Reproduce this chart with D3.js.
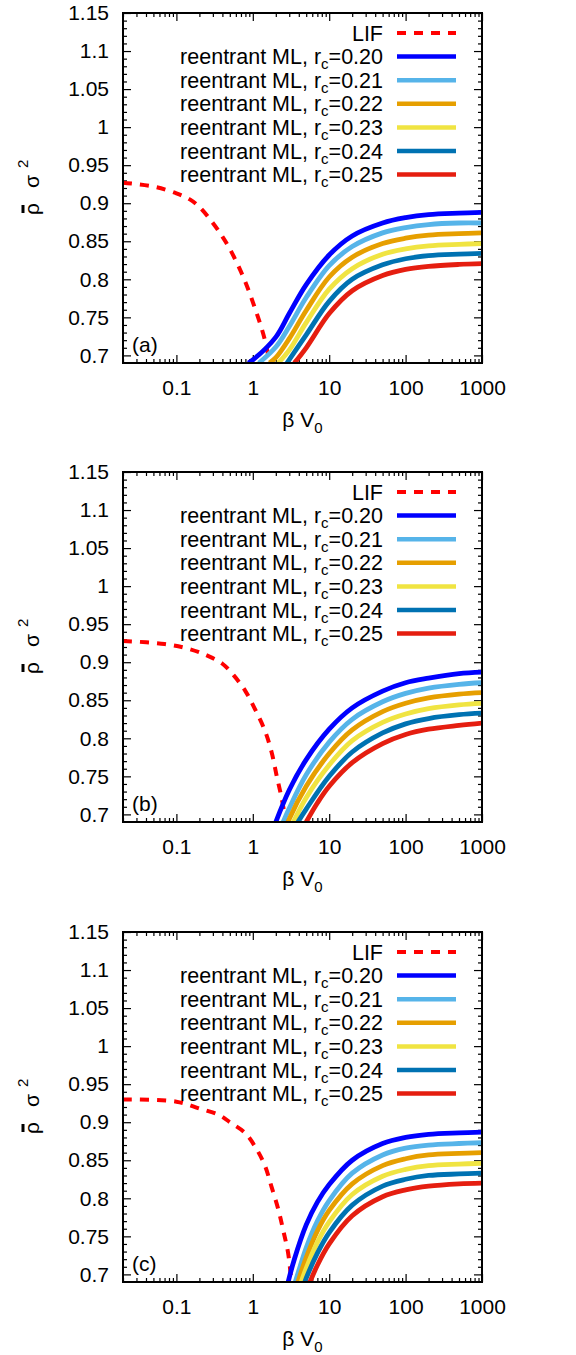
<!DOCTYPE html>
<html><head><meta charset="utf-8">
<script src="https://cdn.jsdelivr.net/npm/d3@7"></script>
<style>
html,body{margin:0;padding:0;background:#fff;}
svg text{font-family:"Liberation Sans",Arial,Helvetica,sans-serif;fill:#000;}
</style></head>
<body>
<svg id="chart" width="576" height="1355"></svg>
<script>
// ---------- data ----------
const panelLabels = ["(a)", "(b)", "(c)"];
const seriesNames = ["0.20", "0.21", "0.22", "0.23", "0.24", "0.25"];
const seriesColors = ["#0000ff", "#56b4e9", "#e69f00", "#f0e442", "#0072b2", "#e51e10"];
const lifColor = "#ff0000";
const xTickValues = [0.1, 1, 10, 100, 1000];
const xTickLabels = ["0.1", "1", "10", "100", "1000"];
const yTickValues = [0.7, 0.75, 0.8, 0.85, 0.9, 0.95, 1.0, 1.05, 1.1, 1.15];
const yTickLabels = ["0.7", "0.75", "0.8", "0.85", "0.9", "0.95", "1", "1.05", "1.1", "1.15"];

// panel (a)
const lifA = [[0.02,0.927],[0.05,0.922],[0.1,0.913],[0.15,0.905],[0.2,0.895],[0.3,0.874],[0.4,0.856],[0.5,0.84],[0.7,0.81],[0.9,0.783],[1.1,0.758],[1.3,0.736],[1.5,0.713],[1.65,0.69]];
const mlA20 = [[0.87,0.69],[1,0.694],[2,0.724],[3,0.755],[5,0.793],[10,0.832],[20,0.857],[50,0.874],[100,0.881],[200,0.885],[500,0.887],[1000,0.888]];
const mlA21 = [[1.2,0.69],[2,0.711],[3,0.738],[5,0.776],[10,0.818],[20,0.843],[50,0.861],[100,0.868],[200,0.872],[500,0.874],[1000,0.874]];
const mlA22 = [[1.65,0.69],[2,0.697],[3,0.722],[5,0.759],[10,0.803],[20,0.829],[50,0.847],[100,0.854],[200,0.858],[500,0.86],[1000,0.861]];
const mlA23 = [[2.15,0.69],[3,0.707],[5,0.743],[10,0.787],[20,0.814],[50,0.833],[100,0.84],[200,0.844],[500,0.846],[1000,0.847]];
const mlA24 = [[2.8,0.69],[5,0.727],[10,0.771],[20,0.8],[50,0.819],[100,0.827],[200,0.831],[500,0.833],[1000,0.834]];
const mlA25 = [[3.5,0.69],[5,0.71],[10,0.755],[20,0.785],[50,0.805],[100,0.813],[200,0.817],[500,0.8195],[1000,0.8205]];

// panel (b)
const lifB = [[0.02,0.928],[0.07,0.924],[0.14,0.918],[0.25,0.909],[0.4,0.898],[0.56,0.883],[0.8,0.862],[1.06,0.839],[1.44,0.81],[1.76,0.782],[2.06,0.75],[2.4,0.72],[2.7,0.69]];
const mlB20 = [[2.0,0.69],[3,0.732],[5,0.772],[10,0.812],[20,0.84],[50,0.862],[100,0.873],[200,0.879],[500,0.885],[1000,0.887]];
const mlB21 = [[2.5,0.69],[3,0.708],[5,0.752],[10,0.795],[20,0.825],[50,0.848],[100,0.859],[200,0.866],[500,0.871],[1000,0.873]];
const mlB22 = [[2.9,0.69],[3,0.694],[5,0.737],[10,0.78],[20,0.811],[50,0.835],[100,0.846],[200,0.853],[500,0.858],[1000,0.86]];
const mlB23 = [[3.4,0.69],[5,0.722],[10,0.765],[20,0.797],[50,0.821],[100,0.832],[200,0.839],[500,0.844],[1000,0.846]];
const mlB24 = [[3.9,0.69],[5,0.707],[10,0.75],[20,0.782],[50,0.807],[100,0.819],[200,0.826],[500,0.831],[1000,0.833]];
const mlB25 = [[5.0,0.69],[7,0.715],[10,0.737],[20,0.768],[50,0.793],[100,0.805],[200,0.812],[500,0.817],[1000,0.82]];

// panel (c)
const lifC = [[0.02,0.93],[0.1,0.927],[0.2,0.918],[0.37,0.909],[0.5,0.9],[0.79,0.886],[1.1,0.866],[1.44,0.843],[1.76,0.815],[2.15,0.786],[2.5,0.758],[2.9,0.728],[3.2,0.69]];
const mlC20 = [[2.9,0.69],[3.5,0.72],[5,0.765],[7,0.795],[10,0.818],[20,0.85],[50,0.872],[100,0.88],[200,0.884],[500,0.886],[1000,0.887]];
const mlC21 = [[3.6,0.69],[4,0.705],[5,0.735],[7,0.77],[10,0.797],[20,0.833],[50,0.857],[100,0.866],[200,0.87],[500,0.872],[1000,0.873]];
const mlC22 = [[3.9,0.69],[5,0.722],[7,0.757],[10,0.784],[20,0.819],[50,0.843],[100,0.852],[200,0.857],[500,0.859],[1000,0.86]];
const mlC23 = [[4.3,0.69],[5,0.708],[7,0.742],[10,0.769],[20,0.805],[50,0.829],[100,0.838],[200,0.843],[500,0.845],[1000,0.846]];
const mlC24 = [[4.8,0.69],[5,0.695],[7,0.728],[10,0.755],[20,0.791],[50,0.816],[100,0.825],[200,0.83],[500,0.832],[1000,0.833]];
const mlC25 = [[5.6,0.69],[7,0.712],[10,0.74],[20,0.777],[50,0.802],[100,0.811],[200,0.816],[500,0.819],[1000,0.82]];

const panels = [
  {label: panelLabels[0], lif: lifA, ml: [mlA20, mlA21, mlA22, mlA23, mlA24, mlA25]},
  {label: panelLabels[1], lif: lifB, ml: [mlB20, mlB21, mlB22, mlB23, mlB24, mlB25]},
  {label: panelLabels[2], lif: lifC, ml: [mlC20, mlC21, mlC22, mlC23, mlC24, mlC25]}
];

// ---------- layout ----------
const svg = d3.select("#chart");
const L = 123, R = 482, H = 350;
const tops = [13, 472, 932];
const FS = 21, LFS = 21.5;

const xMinor = [];
[0.01, 0.1, 1, 10, 100].forEach(d => { for (let k = 2; k <= 9; k++) { const v = d * k; if (v >= 0.02 && v <= 1000) xMinor.push(v); } });
const yMinor = d3.range(70, 116).map(v => v / 100).filter(v => Math.round(v * 100) % 5 !== 0);

panels.forEach((p, pi) => {
  const top = tops[pi];
  const g = svg.append("g");
  const x = d3.scaleLog().domain([0.02, 1000]).range([L, R]);
  const y = d3.scaleLinear().domain([0.69, 1.15]).range([top + H, top]);

  const clipId = "clip" + pi;
  g.append("clipPath").attr("id", clipId).append("rect")
    .attr("x", L).attr("y", top).attr("width", R - L).attr("height", H);

  const styleAxis = sel => { sel.select(".domain").remove(); sel.selectAll("line").attr("stroke", "#000").attr("stroke-width", 1.2); sel.selectAll("text").attr("font-size", FS).attr("font-family", "Liberation Sans, Arial, sans-serif"); };
  g.append("g").attr("transform", `translate(0,${top + H})`)
    .call(d3.axisBottom(x).tickValues(xTickValues).tickSize(-8).tickPadding(17).tickFormat((d, i) => xTickLabels[i]))
    .call(styleAxis);
  g.append("g").attr("transform", `translate(0,${top + H})`)
    .call(d3.axisBottom(x).tickValues(xMinor).tickSize(-4).tickFormat(""))
    .call(styleAxis);
  g.append("g").attr("transform", `translate(0,${top})`)
    .call(d3.axisTop(x).tickValues(xTickValues).tickSize(-8).tickFormat(""))
    .call(styleAxis);
  g.append("g").attr("transform", `translate(0,${top})`)
    .call(d3.axisTop(x).tickValues(xMinor).tickSize(-4).tickFormat(""))
    .call(styleAxis);
  g.append("g").attr("transform", `translate(${L},0)`)
    .call(d3.axisLeft(y).tickValues(yTickValues).tickSize(-8).tickPadding(14).tickFormat((d, i) => yTickLabels[i]))
    .call(styleAxis);
  g.append("g").attr("transform", `translate(${L},0)`)
    .call(d3.axisLeft(y).tickValues(yMinor).tickSize(-4).tickFormat(""))
    .call(styleAxis);
  g.append("g").attr("transform", `translate(${R},0)`)
    .call(d3.axisRight(y).tickValues(yTickValues).tickSize(-8).tickFormat(""))
    .call(styleAxis);
  g.append("g").attr("transform", `translate(${R},0)`)
    .call(d3.axisRight(y).tickValues(yMinor).tickSize(-4).tickFormat(""))
    .call(styleAxis);

  const line = d3.line().x(d => x(d[0])).y(d => y(d[1])).curve(d3.curveCatmullRom.alpha(0.5));
  const curves = g.append("g").attr("clip-path", `url(#${clipId})`);
  curves.append("path").datum(p.lif).attr("d", line).attr("fill", "none")
    .attr("stroke", lifColor).attr("stroke-width", 4).attr("stroke-dasharray", "9,8");
  p.ml.forEach((s, i) => {
    curves.append("path").datum(s).attr("d", line).attr("fill", "none")
      .attr("stroke", seriesColors[i]).attr("stroke-width", 4.8).attr("stroke-linejoin", "round");
  });

  g.append("rect").attr("x", L).attr("y", top).attr("width", R - L).attr("height", H)
    .attr("fill", "none").attr("stroke", "#000").attr("stroke-width", 2);

  // legend
  const lg = g.append("g");
  const rowY = i => top + 20 + i * 23.6;
  lg.append("text").attr("x", 383).attr("y", rowY(0)).attr("dy", "0.35em").attr("text-anchor", "end")
    .attr("font-size", LFS).text("LIF");
  lg.append("line").attr("x1", 397).attr("x2", 456).attr("y1", rowY(0)).attr("y2", rowY(0))
    .attr("stroke", lifColor).attr("stroke-width", 4).attr("stroke-dasharray", "9,8");
  seriesNames.forEach((nm, i) => {
    const yy = rowY(i + 1);
    const t = lg.append("text").attr("x", 383).attr("y", yy).attr("dy", "0.35em").attr("text-anchor", "end").attr("font-size", LFS);
    t.append("tspan").text("reentrant ML, r");
    t.append("tspan").attr("font-size", 15).attr("dy", 5).text("c");
    t.append("tspan").attr("dy", -5).text("=" + nm);
    lg.append("line").attr("x1", 397).attr("x2", 456).attr("y1", yy).attr("y2", yy)
      .attr("stroke", seriesColors[i]).attr("stroke-width", 4.5);
  });

  g.append("text").attr("x", 132).attr("y", top + 339).attr("font-size", FS).text(p.label);

  // x label
  const xl = g.append("text").attr("x", (L + R) / 2).attr("y", top + H + 64).attr("text-anchor", "middle").attr("font-size", FS);
  xl.append("tspan").text("β V");
  xl.append("tspan").attr("font-size", 15).attr("dy", 6).text("0");

  // y label (rotated): rho with bar, sigma, superscript 2
  const yg = g.append("g").attr("transform", `translate(39,${top + 175}) rotate(-90)`);
  yg.append("text").attr("x", -27).attr("y", 0).attr("font-size", FS).text("ρ");
  yg.append("rect").attr("x", -25).attr("y", -17.5).attr("width", 8).attr("height", 3).attr("fill", "#000");
  yg.append("text").attr("x", 0).attr("y", 0).attr("font-size", FS).text("σ");
  yg.append("text").attr("x", 20).attr("y", -11).attr("font-size", 15).text("2");
});
</script>
</body></html>
